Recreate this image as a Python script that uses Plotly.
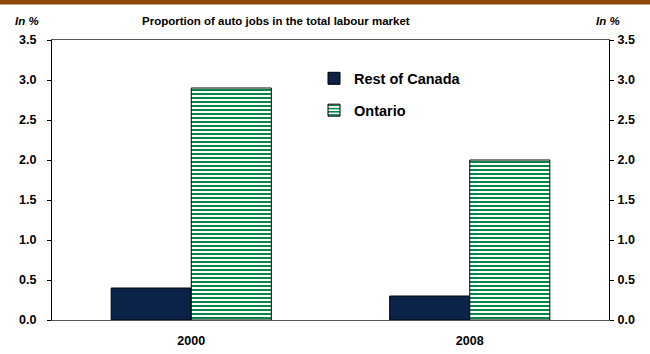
import plotly.graph_objects as go

categories = ["2000", "2008"]
rest_of_canada = [0.4, 0.3]
ontario = [2.9, 2.0]
y_ticks = [0.0, 0.5, 1.0, 1.5, 2.0, 2.5, 3.0, 3.5]
y_tick_labels = ["0.0", "0.5", "1.0", "1.5", "2.0", "2.5", "3.0", "3.5"]

FONT = "Liberation Sans, Arial, sans-serif"
NAVY = "#0B2249"
GREEN = "#008A45"

fig = go.Figure()
fig.add_trace(go.Bar(
    x=categories, y=rest_of_canada, name="Rest of Canada",
    marker=dict(color=NAVY, line=dict(color="#000000", width=1)),
    legendgroup="a",
))
fig.add_trace(go.Bar(
    x=categories, y=ontario, name="Ontario",
    marker=dict(color="white", line=dict(color="#000000", width=1),
                pattern=dict(shape="-", fgcolor=GREEN, fgopacity=1, bgcolor="white", size=4, solidity=0.5)),
    legendgroup="b",
))
# invisible trace for right axis
fig.add_trace(go.Scatter(x=categories, y=ontario, yaxis="y2", mode="markers",
                         marker=dict(opacity=0), showlegend=False, hoverinfo="skip"))

yax = dict(range=[0, 3.5], tickvals=y_ticks, ticktext=y_tick_labels,
           ticks="outside", ticklen=4, tickcolor="#000000", showgrid=False,
           showline=True, linecolor="#000000", linewidth=1, zeroline=False,
           automargin=False,
           tickfont=dict(family=FONT, size=12.5, color="#000000", weight="bold"),
           fixedrange=True)

fig.update_layout(
    width=650, height=354,
    margin=dict(l=52, r=41, t=40, b=34),
    paper_bgcolor="white", plot_bgcolor="white",
    barmode="group", bargap=0.425, bargroupgap=0,
    xaxis=dict(showline=True, linecolor="#555555", linewidth=1, mirror=True,
               ticks="", showgrid=False, ticklabelstandoff=9, automargin=False,
               tickfont=dict(family=FONT, size=12.5, color="#000000", weight="bold")),
    yaxis=dict(yax, ticklabelstandoff=8),
    yaxis2=dict(yax, overlaying="y", side="right", ticklabelstandoff=1),
    showlegend=True,
    legend=dict(x=(314 - 52) / 557, y=0.92, xanchor="left", yanchor="top",
                font=dict(family=FONT, size=14.5, color="#000000", weight="bold"),
                traceorder="grouped", tracegroupgap=10, itemwidth=30,
                bgcolor="rgba(0,0,0,0)"),
    shapes=[dict(type="rect", xref="paper", yref="paper", x0=-0.1, x1=1.1,
                 y0=(320 - 4.5) / 280, y1=(320 + 2) / 280,
                 fillcolor="#8B4A0A", line=dict(width=0), layer="above")],
    annotations=[
        dict(text="Proportion of auto jobs in the total labour market", xref="paper", yref="paper",
             x=(275.5 - 52) / 557, y=(320 - 21) / 280, showarrow=False, xanchor="center", yanchor="middle",
             font=dict(family=FONT, size=11.5, color="#000000", weight="bold")),
        dict(text="<i>In %</i>", xref="paper", yref="paper",
             x=(13 - 52) / 557, y=(320 - 21) / 280, showarrow=False, xanchor="left", yanchor="middle",
             font=dict(family=FONT, size=11.5, color="#000000", weight="bold")),
        dict(text="<i>In %</i>", xref="paper", yref="paper",
             x=(622 - 52) / 557, y=(320 - 21) / 280, showarrow=False, xanchor="right", yanchor="middle",
             font=dict(family=FONT, size=11.5, color="#000000", weight="bold")),
    ],
)

fig.write_html("out.html")
